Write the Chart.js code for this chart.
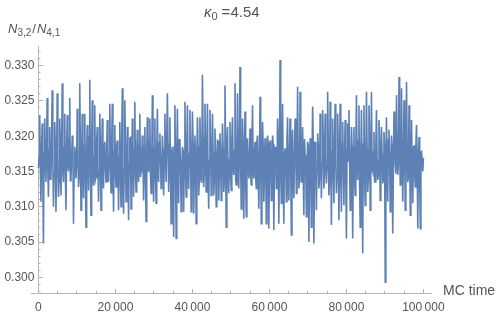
<!DOCTYPE html>
<html><head><meta charset="utf-8">
<script src="https://cdn.jsdelivr.net/npm/chart.js@4.4.1/dist/chart.umd.min.js"></script>
<style>html,body{margin:0;padding:0;background:#fff}</style>
</head><body>
<canvas id="c" width="500" height="318"></canvas>
<script>
// N3,2/N4,1, in MC-time order (five stretches of the run).
// segN: the excursions (peaks and dips); coreN: the dense middle of the band between them.
const seg1 = [0.3155,0.3230,0.3107,0.3218,0.3048,0.3225,0.3135,0.3254,0.3114,0.3213,
0.3140,0.3265,0.3100,0.3220,0.3093,0.3261,0.3114,0.3225,0.3116,0.3275,
0.3135,0.3232,0.3095,0.3230,0.3150,0.3254,0.3140,0.3201,0.3076,0.3185,
0.3140,0.3239,0.3128,0.3275,0.3095,0.3232,0.3112,0.3232,0.3071,0.3216,
0.3123,0.3280,0.3088,0.3251,0.3130,0.3244,0.3142,0.3213,0.3107,0.3232,
0.3095,0.3225,0.3126,0.3192,0.3135,0.3223,0.3135,0.3246,0.3120];
const core1 = [0.3170,0.3158,0.3184,0.3142,0.3176,0.3162,0.3190,0.3150,0.3181,0.3139,
0.3196,0.3165,0.3147,0.3186,0.3158,0.3171,0.3135,0.3192,0.3166,0.3153,
0.3184,0.3144,0.3178,0.3160,0.3197,0.3137,0.3169,0.3188,0.3149,0.3174,
0.3158,0.3191,0.3141,0.3180,0.3163,0.3152,0.3187,0.3134,0.3175,0.3168,
0.3199,0.3146,0.3183,0.3157,0.3172,0.3138,0.3194,0.3161,0.3150,0.3182,
0.3167,0.3143,0.3189,0.3155,0.3178,0.3140,0.3173,0.3164,0.3185];
const seg2 = [0.3246,0.3093,0.3216,0.3128,0.3194,0.3095,0.3220,0.3100,0.3268,0.3090,
0.3251,0.3107,0.3213,0.3081,0.3197,0.3097,0.3225,0.3114,0.3249,0.3121,
0.3209,0.3135,0.3232,0.3150,0.3201,0.3109,0.3213,0.3079,0.3227,0.3149,
0.3225,0.3119,0.3258,0.3107,0.3225,0.3105,0.3239,0.3135,0.3204,0.3126,
0.3201,0.3116,0.3232,0.3135,0.3261,0.3121,0.3227,0.3076,0.3185,0.3057,
0.3244,0.3055,0.3239,0.3105,0.3187,0.3093,0.3185,0.3093,0.3249,0.3114,
0.3244,0.3125];
const core2 = [0.3162,0.3179,0.3145,0.3188,0.3156,0.3171,0.3139,0.3193,0.3166,0.3151,
0.3184,0.3143,0.3175,0.3160,0.3198,0.3137,0.3169,0.3182,0.3148,0.3176,
0.3155,0.3190,0.3142,0.3173,0.3164,0.3186,0.3136,0.3179,0.3158,0.3195,
0.3147,0.3170,0.3161,0.3183,0.3140,0.3177,0.3152,0.3191,0.3168,0.3144,
0.3181,0.3157,0.3174,0.3135,0.3189,0.3163,0.3149,0.3178,0.3141,0.3185,
0.3154,0.3172,0.3138,0.3196,0.3160,0.3146,0.3180,0.3167,0.3150,0.3187,
0.3159,0.3175];
const seg3 = [0.3237,0.3093,0.3235,0.3090,0.3201,0.3076,0.3227,0.3116,0.3227,0.3135,
0.3287,0.3128,0.3246,0.3121,0.3246,0.3097,0.3237,0.3116,0.3232,0.3116,
0.3211,0.3100,0.3194,0.3109,0.3204,0.3109,0.3218,0.3121,0.3272,0.3071,
0.3213,0.3119,0.3220,0.3123,0.3227,0.3145,0.3275,0.3131,0.3261,0.3126,
0.3298,0.3097,0.3225,0.3083,0.3235,0.3086,0.3197,0.3140,0.3211,0.3131,
0.3244,0.3140,0.3192,0.3126,0.3201,0.3097,0.3256,0.3076,0.3220,0.3107,
0.3197,0.3076,0.3201,0.3069];
const core3 = [0.3180,0.3152,0.3191,0.3145,0.3170,0.3163,0.3186,0.3139,0.3176,0.3157,
0.3198,0.3148,0.3173,0.3184,0.3141,0.3166,0.3190,0.3154,0.3178,0.3137,
0.3169,0.3161,0.3193,0.3146,0.3175,0.3158,0.3184,0.3135,0.3172,0.3188,
0.3150,0.3167,0.3143,0.3196,0.3160,0.3179,0.3138,0.3174,0.3155,0.3189,
0.3163,0.3147,0.3182,0.3171,0.3136,0.3192,0.3159,0.3168,0.3144,0.3185,
0.3153,0.3177,0.3140,0.3194,0.3165,0.3149,0.3181,0.3158,0.3187,0.3142,
0.3174,0.3161,0.3190,0.3152];
const seg4 = [0.3194,0.3109,0.3201,0.3067,0.3185,0.3126,0.3225,0.3076,0.3308,0.3105,
0.3246,0.3076,0.3183,0.3107,0.3227,0.3109,0.3225,0.3060,0.3209,0.3112,
0.3225,0.3119,0.3270,0.3126,0.3263,0.3135,0.3213,0.3088,0.3173,0.3086,
0.3192,0.3050,0.3197,0.3071,0.3242,0.3048,0.3192,0.3095,0.3204,0.3126,
0.3232,0.3112,0.3237,0.3126,0.3232,0.3133,0.3263,0.3116,0.3249,0.3074,
0.3225,0.3105,0.3246,0.3119,0.3232,0.3081,0.3246,0.3093,0.3220,0.3102,
0.3223,0.3055,0.3218];
const core4 = [0.3168,0.3145,0.3189,0.3156,0.3177,0.3139,0.3194,0.3162,0.3150,0.3183,
0.3141,0.3172,0.3166,0.3197,0.3136,0.3179,0.3158,0.3186,0.3147,0.3170,
0.3191,0.3153,0.3164,0.3138,0.3182,0.3175,0.3143,0.3196,0.3160,0.3149,
0.3187,0.3134,0.3173,0.3165,0.3192,0.3144,0.3178,0.3155,0.3185,0.3140,
0.3171,0.3161,0.3199,0.3148,0.3176,0.3157,0.3188,0.3137,0.3169,0.3180,
0.3151,0.3193,0.3163,0.3142,0.3184,0.3167,0.3146,0.3190,0.3159,0.3174,
0.3139,0.3181,0.3165];
const seg5 = [0.3237,0.3095,0.3213,0.3055,0.3213,0.3116,0.3258,0.3138,0.3244,0.3071,
0.3237,0.3034,0.3244,0.3102,0.3263,0.3121,0.3244,0.3095,0.3263,0.3149,
0.3206,0.3135,0.3237,0.3138,0.3223,0.3109,0.3213,0.3133,0.3206,0.2993,
0.3227,0.3107,0.3209,0.3093,0.3201,0.3062,0.3235,0.3159,0.3258,0.3145,
0.3284,0.3131,0.3268,0.3107,0.3251,0.3095,0.3277,0.3135,0.3244,0.3088,
0.3223,0.3105,0.3187,0.3128,0.3216,0.3069,0.3199,0.3069,0.3178,0.3150];
const core5 = [0.3171,0.3148,0.3186,0.3159,0.3140,0.3180,0.3165,0.3194,0.3137,0.3174,
0.3155,0.3189,0.3146,0.3168,0.3183,0.3141,0.3197,0.3162,0.3152,0.3178,
0.3135,0.3187,0.3166,0.3145,0.3192,0.3158,0.3175,0.3139,0.3184,0.3163,
0.3150,0.3195,0.3170,0.3143,0.3181,0.3156,0.3199,0.3147,0.3176,0.3161,
0.3189,0.3138,0.3173,0.3164,0.3185,0.3151,0.3179,0.3142,0.3193,0.3167,
0.3157,0.3182,0.3144,0.3188,0.3160,0.3172,0.3140,0.3177,0.3166,0.3169];

function weave(a, b) { const out = []; a.forEach((v, i) => { out.push(v); if (i < b.length) out.push(b[i]); }); return out; }
const ratio = [].concat(weave(seg1, core1), weave(seg2, core2), weave(seg3, core3), weave(seg4, core4), weave(seg5, core5));
const mcStart = 0, mcEnd = 100000;
const mcTime = ratio.map((_, i) => mcStart + i * (mcEnd - mcStart) / (ratio.length - 1));

// tick values
const xMajorTicks = [0, 20000, 40000, 60000, 80000, 100000];
const xMinorTicks = [0, 5000, 10000, 15000, 20000, 25000, 30000, 35000, 40000, 45000, 50000,
  55000, 60000, 65000, 70000, 75000, 80000, 85000, 90000, 95000, 100000];
const yMajorStep = 0.005, yMinorStep = 0.001;
const xMin = -1750, xMax = 102150;
const yMin = 0.29777, yMax = 0.33269;

const axisColor = '#b5b5b5';
const labelColor = '#555555';
const tickFont = {family: 'Liberation Sans', size: 12};

function fmtX(v) {
  if (v === 0) return '0';
  return String(Math.round(v)).replace(/\B(?=(\d{3})+(?!\d))/g, '\u2009');
}
function fmtY(v) { return v.toFixed(3) + '\u2005\u200A'; }

const textPlugin = {
  id: 'texts',
  afterDraw(chart) {
    const ctx = chart.ctx;
    ctx.save();
    ctx.fillStyle = labelColor;
    ctx.textBaseline = 'alphabetic';
    ctx.textAlign = 'left';
    function run(parts, x, y) {
      for (const p of parts) {
        ctx.font = p.font;
        ctx.fillText(p.t, x, y + (p.dy || 0));
        x += ctx.measureText(p.t).width + (p.gap || 0);
      }
    }
    run([
      {t: 'κ', font: 'italic 15px "Liberation Sans"'},
      {t: '0', font: '11px "Liberation Sans"', dy: 3, gap: 4},
      {t: '=4.54', font: '15px "Liberation Sans"'}
    ], 204, 17);
    run([
      {t: 'N', font: 'italic 13px "Liberation Sans"'},
      {t: '3,2', font: '10px "Liberation Sans"', dy: 3, gap: 1},
      {t: '/', font: '13px "Liberation Sans"', gap: 1},
      {t: 'N', font: 'italic 13px "Liberation Sans"'},
      {t: '4,1', font: '10px "Liberation Sans"', dy: 3}
    ], 8, 33);
    run([{t: 'MC time', font: '14px "Liberation Sans"'}], 443, 295);
    ctx.restore();
  }
};

function setTicks(list) { return scale => { scale.ticks = list.map(v => ({value: v})); }; }

new Chart(document.getElementById('c'), {
  type: 'line',
  data: {
    datasets: [{
      data: ratio.map((v, i) => ({x: mcTime[i], y: v})),
      borderColor: '#5E81B5',
      borderWidth: 1.6,
      pointRadius: 0,
      tension: 0,
      fill: false
    }]
  },
  options: {
    responsive: false,
    animation: false,
    devicePixelRatio: 1,
    layout: {padding: {left: 31.7, right: 68.3, top: 46.7, bottom: 25}},
    plugins: {legend: {display: false}, tooltip: {enabled: false}, title: {display: false}},
    scales: {
      x: {
        type: 'linear', min: xMin, max: xMax, position: {y: yMin},
        afterBuildTicks: setTicks(xMajorTicks),
        grid: {drawOnChartArea: false, drawTicks: true, tickLength: -5, tickColor: axisColor},
        border: {display: true, color: axisColor, width: 1},
        ticks: {autoSkip: false, maxRotation: 0, padding: 12, color: labelColor, font: tickFont, callback: fmtX}
      },
      x2: {
        type: 'linear', min: xMin, max: xMax, position: {y: yMin},
        afterBuildTicks: setTicks(xMinorTicks),
        grid: {drawOnChartArea: false, drawTicks: true, tickLength: -2.5, tickColor: axisColor},
        border: {display: false},
        ticks: {autoSkip: false, display: false}
      },
      y: {
        type: 'linear', min: yMin, max: yMax, position: {x: 0},
        grid: {drawOnChartArea: false, drawTicks: true, tickLength: -5, tickColor: axisColor},
        border: {display: true, color: axisColor, width: 1},
        ticks: {stepSize: yMajorStep, includeBounds: false, autoSkip: false,
                padding: 14, color: labelColor, font: tickFont, callback: fmtY}
      },
      y2: {
        type: 'linear', min: yMin, max: yMax, position: {x: 0},
        grid: {drawOnChartArea: false, drawTicks: true, tickLength: -2.5, tickColor: axisColor},
        border: {display: false},
        ticks: {stepSize: yMinorStep, includeBounds: false, autoSkip: false, display: false}
      }
    }
  },
  plugins: [textPlugin]
});
</script>
</body></html>
